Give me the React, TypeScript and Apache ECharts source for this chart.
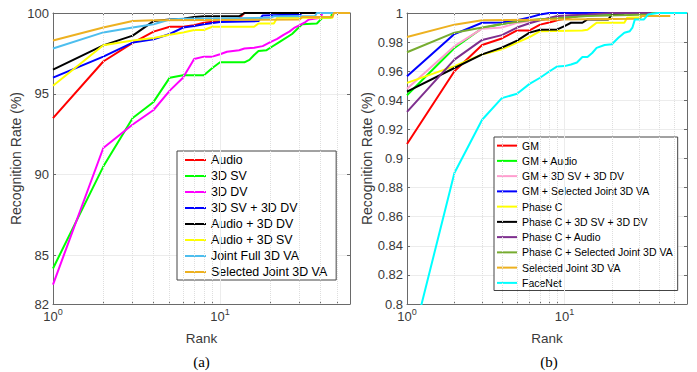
import React, { useEffect, useRef } from 'react';
import * as echarts from 'echarts';

// ---------- tick values ----------
const xTickRanks = [1, 2, 3, 4, 5, 6, 7, 8, 9, 10, 20, 30, 40, 50];
const xMinorGridRanks = [2, 3, 4, 5, 6, 7, 8, 9, 20, 30, 40, 50];
const xMajorGridRanks = [10];
const yTicksA = [82, 85, 90, 95, 100];

// ---------- panel (a) ----------
const namesA = ['Audio', '3D SV', '3D DV', '3D SV + 3D DV', 'Audio + 3D DV', 'Audio + 3D SV', 'Joint Full 3D VA', 'Selected Joint 3D VA'];
const colorsA = ['#FF0000', '#00FF00', '#FF00FF', '#0000FF', '#000000', '#FFFF00', '#4DBEEE', '#EDB120'];

const audioA = [[1, 93.5], [2, 97.0], [3, 98.15], [4, 98.85], [5, 99.15], [6, 99.15], [7, 99.25], [8, 99.4], [10, 99.5], [12, 99.6], [13, 99.65], [14, 100], [60, 100]];
const sv3dA = [[1, 84.2], [2, 90.5], [3, 93.5], [4, 94.5], [5, 96.0], [6, 96.15], [8, 96.15], [9, 96.6], [10, 96.95], [14, 96.95], [15, 97.1], [16, 97.4], [17, 97.65], [19, 97.7], [20, 97.85], [23, 98.25], [27, 98.7], [31, 99.3], [38, 99.35], [41, 99.7], [46, 99.7], [47, 100], [60, 100]];
const dv3dA = [[1, 83.2], [2, 91.65], [3, 93.1], [4, 94.0], [5, 95.2], [6, 96.0], [7, 97.15], [8, 97.3], [9, 97.3], [10, 97.45], [11, 97.6], [13, 97.7], [14, 97.8], [16, 97.85], [18, 97.95], [20, 98.2], [22, 98.4], [24, 98.65], [26, 98.85], [28, 99.1], [30, 99.25], [32, 99.4], [34, 99.6], [40, 99.7], [41, 100], [60, 100]];
const svDvA = [[1, 96.0], [2, 97.3], [3, 98.17], [4, 98.38], [5, 98.7], [6, 99.1], [7, 99.2], [8, 99.3], [10, 99.45], [17, 99.5], [18, 99.85], [30, 99.9], [31, 100], [60, 100]];
const audioDvA = [[1, 96.5], [2, 98.0], [3, 98.6], [4, 99.5], [5, 99.6], [6, 99.65], [7, 99.75], [8, 99.8], [13, 99.8], [14, 100], [60, 100]];
const audioSvA = [[1, 95.5], [2, 98.0], [3, 98.3], [4, 98.45], [5, 98.65], [6, 98.8], [7, 98.95], [8, 98.95], [9, 99.15], [16, 99.15], [17, 99.35], [21, 99.35], [22, 99.7], [47, 99.7], [48, 100], [60, 100]];
const jointFullA = [[1, 97.8], [2, 98.8], [3, 99.1], [4, 99.3], [5, 99.6], [6, 99.65], [20, 99.7], [21, 99.8], [37, 99.8], [38, 100], [60, 100]];
const selJointA = [[1, 98.3], [2, 99.1], [3, 99.5], [4, 99.55], [30, 99.6], [31, 99.75], [47, 99.75], [48, 100], [60, 100]];
const dataA = [audioA, sv3dA, dv3dA, svDvA, audioDvA, audioSvA, jointFullA, selJointA];

// ---------- panel (b) ----------
const namesB = ['GM', 'GM + Audio', 'GM + 3D SV + 3D DV', 'GM + Selected Joint 3D VA', 'Phase C', 'Phase C + 3D SV + 3D DV', 'Phase C + Audio', 'Phase C + Selected Joint 3D VA', 'Selected Joint 3D VA', 'FaceNet'];
const colorsB = ['#FF0000', '#00FF00', '#FF9ECF', '#0000FF', '#FFFF00', '#000000', '#7E2F8E', '#77AC30', '#EDB120', '#00FFFF'];

const gmB = [[1, 0.91], [2, 0.96], [3, 0.978], [4, 0.9825], [5, 0.988], [6, 0.988], [7, 0.992], [8, 0.9935], [9, 0.995], [11, 0.997], [14, 0.999], [18, 1], [60, 1]];
const gmAudioB = [[1, 0.9435], [2, 0.976], [3, 0.9895], [4, 0.9925], [6, 0.995], [8, 0.996], [12, 0.998], [18, 0.999], [25, 1], [60, 1]];
const gmSvDvB = [[1, 0.948], [2, 0.9772], [3, 0.9892], [4, 0.99], [5, 0.9932], [6, 0.9945], [8, 0.9956], [10, 0.998], [12, 0.999], [20, 1], [60, 1]];
const gmSelB = [[1, 0.9565], [2, 0.9855], [3, 0.9933], [4, 0.9935], [5, 0.995], [6, 0.997], [7, 0.999], [8, 1], [60, 1]];
const phaseCB = [[1, 0.952], [2, 0.9635], [3, 0.9715], [4, 0.975], [5, 0.9796], [6, 0.9835], [7, 0.9875], [13, 0.988], [14, 0.9885], [15, 0.991], [16, 0.9933], [24, 0.9933], [25, 0.9968], [30, 0.997], [31, 0.998], [36, 0.998]];
const phaseCSvDvB = [[1, 0.946], [2, 0.9622], [3, 0.9716], [4, 0.9762], [5, 0.981], [6, 0.9865], [7, 0.9885], [9, 0.9887], [10, 0.991], [11, 0.9933], [13, 0.9933], [14, 0.9956], [19, 0.9956], [20, 0.999], [24, 0.999]];
const phaseCAudioB = [[1, 0.932], [2, 0.968], [3, 0.9815], [4, 0.9848], [5, 0.99], [6, 0.993], [7, 0.995], [9, 0.998], [14, 0.999], [20, 1], [60, 1]];
const phaseCSelB = [[1, 0.973], [2, 0.9865], [3, 0.99], [4, 0.9925], [6, 0.995], [8, 0.996], [14, 0.998], [35, 0.999], [36, 1], [60, 1]];
const selJointB = [[1, 0.9835], [2, 0.992], [3, 0.995], [30, 0.996], [31, 0.998], [47, 0.998]];
const faceNetB = [[1, 0.76], [2, 0.89], [3, 0.9266], [4, 0.9415], [5, 0.9445], [6, 0.9513], [7, 0.9555], [8, 0.9598], [9, 0.9633], [10, 0.9635], [11, 0.9646], [12, 0.966], [13, 0.9697], [14, 0.9697], [15, 0.9725], [16, 0.976], [18, 0.978], [20, 0.9785], [22, 0.983], [24, 0.9864], [26, 0.9875], [27, 0.9899], [28, 0.9956], [32, 0.9956], [34, 0.999], [39, 1], [60, 1]];
const dataB = [gmB, gmAudioB, gmSvDvB, gmSelB, phaseCB, phaseCSvDvB, phaseCAudioB, phaseCSelB, selJointB, faceNetB];

const FONT = '"Liberation Sans", Arial, sans-serif';
const AXIS_COLOR = '#6a6a6a';
const LABEL_COLOR = '#3a3a3a';

function xAxes(gridIndex: number) {
  const base = { type: 'log', logBase: 10, min: 1, max: 60, gridIndex };
  return [
    {
      ...base,
      position: 'bottom',
      name: 'Rank',
      nameLocation: 'middle',
      nameGap: 27,
      nameTextStyle: { fontFamily: FONT, fontSize: 13.5, color: LABEL_COLOR },
      axisLine: { show: true, onZero: false, lineStyle: { color: AXIS_COLOR, width: 1 } },
      axisTick: { show: true, inside: true, length: 3, customValues: xTickRanks, lineStyle: { color: AXIS_COLOR } },
      splitLine: { show: false },
      axisLabel: {
        margin: 3,
        showMaxLabel: false,
        formatter: (v: number) => `{b|10}{s|${Math.round(Math.log10(v))}}`,
        rich: {
          b: { fontFamily: FONT, fontSize: 13, lineHeight: 14, padding: [4, 0, 0, 0], color: LABEL_COLOR },
          s: { fontFamily: FONT, fontSize: 9, lineHeight: 10, verticalAlign: 'top', color: LABEL_COLOR },
        },
      },
    },
    {
      ...base,
      position: 'top',
      axisLine: { show: true, onZero: false, lineStyle: { color: AXIS_COLOR, width: 1 } },
      axisTick: { show: true, inside: true, length: 3, customValues: xTickRanks, lineStyle: { color: AXIS_COLOR } },
      splitLine: { show: false },
      axisLabel: { show: false },
    },
  ];
}

function yAxes(gridIndex: number, panel: 'a' | 'b') {
  const base: any =
    panel === 'a'
      ? { type: 'value', min: 82, max: 100, gridIndex }
      : { type: 'value', min: 0.8, max: 1, interval: 0.02, gridIndex };
  const tickExtra = panel === 'a' ? { customValues: yTicksA } : {};
  return [
    {
      ...base,
      position: 'left',
      name: 'Recognition Rate (%)',
      nameLocation: 'middle',
      nameGap: panel === 'a' ? 27 : 31,
      nameTextStyle: { fontFamily: FONT, fontSize: 14, color: LABEL_COLOR },
      axisLine: { show: true, lineStyle: { color: AXIS_COLOR, width: 1 } },
      axisTick: { show: true, inside: true, length: 3, lineStyle: { color: AXIS_COLOR }, ...tickExtra },
      axisLabel: { margin: 4, fontFamily: FONT, fontSize: 13, color: LABEL_COLOR, ...tickExtra },
      splitLine: { show: true, lineStyle: { color: '#ececec', width: 1 } },
    },
    {
      ...base,
      position: 'right',
      axisLine: { show: true, lineStyle: { color: AXIS_COLOR, width: 1 } },
      axisTick: { show: true, inside: true, length: 3, lineStyle: { color: AXIS_COLOR }, ...tickExtra },
      axisLabel: { show: false },
      splitLine: { show: false },
    },
  ];
}

function gridLinesSeries(xAxisIndex: number, yAxisIndex: number) {
  return {
    type: 'line',
    name: '__grid' + xAxisIndex,
    xAxisIndex,
    yAxisIndex,
    data: [],
    silent: true,
    markLine: {
      silent: true,
      symbol: 'none',
      label: { show: false },
      data: [
        ...xMinorGridRanks.map((r) => ({ xAxis: r, lineStyle: { type: 'dotted', color: '#dedede', width: 1 } })),
        ...xMajorGridRanks.map((r) => ({ xAxis: r, lineStyle: { type: 'solid', color: '#ececec', width: 1 } })),
      ],
    },
  };
}

function makeSeries(names: string[], colors: string[], data: number[][][], xAxisIndex: number, yAxisIndex: number) {
  return names.map((name, i) => ({
    type: 'line',
    name,
    xAxisIndex,
    yAxisIndex,
    data: data[i],
    showSymbol: false,
    symbol: 'none',
    clip: true,
    lineStyle: { color: colors[i], width: 2 },
    itemStyle: { color: colors[i] },
  }));
}

export default function App() {
  const ref = useRef<HTMLDivElement>(null);
  useEffect(() => {
    if (!ref.current) return;
    const chart = echarts.init(ref.current, null, { renderer: 'svg' });
    const option: any = {
      animation: false,
      backgroundColor: '#fff',
      grid: [
        { left: 53, top: 13, width: 297, height: 291, show: true, borderWidth: 0, backgroundColor: '#fff' },
        { left: 407, top: 13, width: 280, height: 291, show: true, borderWidth: 0, backgroundColor: '#fff' },
      ],
      xAxis: [...xAxes(0), ...xAxes(1)],
      yAxis: [...yAxes(0, 'a'), ...yAxes(1, 'b')],
      legend: [
        {
          orient: 'vertical', left: 177, top: 151, icon: 'rect', itemWidth: 21, itemHeight: 2, itemGap: 0,
          padding: [1, 9, 0, 8], backgroundColor: '#fff', borderColor: '#444', borderWidth: 1, borderRadius: 0,
          textStyle: { fontFamily: FONT, fontSize: 12.4, color: '#000', lineHeight: 16 },
          data: namesA,
        },
        {
          orient: 'vertical', left: 494, top: 137, icon: 'rect', itemWidth: 20, itemHeight: 2, itemGap: 0,
          padding: [1, 5, 0, 3], backgroundColor: '#fff', borderColor: '#444', borderWidth: 1, borderRadius: 0,
          textStyle: { fontFamily: FONT, fontSize: 10.5, color: '#000', lineHeight: 15.25 },
          data: namesB,
        },
      ],
      graphic: [
        { type: 'text', x: 201.5, y: 362, style: { text: '(a)', font: '15px "Liberation Serif"', fill: '#000', align: 'center', verticalAlign: 'middle' } },
        { type: 'text', x: 549, y: 362, style: { text: '(b)', font: '15px "Liberation Serif"', fill: '#000', align: 'center', verticalAlign: 'middle' } },
      ],
      series: [
        gridLinesSeries(0, 0),
        ...makeSeries(namesA, colorsA, dataA, 0, 0),
        gridLinesSeries(2, 2),
        ...makeSeries(namesB, colorsB, dataB, 2, 2),
      ],
    };
    chart.setOption(option);
    return () => chart.dispose();
  }, []);
  return <div ref={ref} style={{ position: 'absolute', left: 0, top: 0, width: 697, height: 372 }} />;
}
